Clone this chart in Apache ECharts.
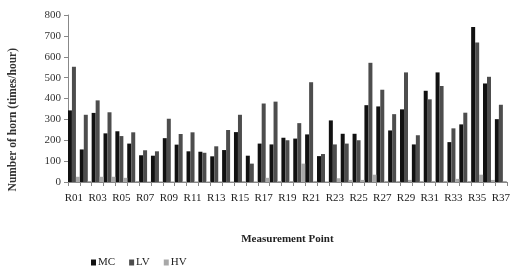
<!DOCTYPE html>
<html><head><meta charset="utf-8">
<script src="https://cdn.jsdelivr.net/npm/echarts@6/dist/echarts.min.js"></script>
<style>html,body{margin:0;padding:0;background:#fff;}#c{width:513px;height:272px;}</style>
</head><body><div id="c"></div>
<script>
const categories = ["R01","R02","R03","R04","R05","R06","R07","R08","R09","R10","R11","R12","R13","R14","R15","R16","R17","R18","R19","R20","R21","R22","R23","R24","R25","R26","R27","R28","R29","R30","R31","R32","R33","R34","R35","R36","R37"];
const mcValues = [343,156,331,233,243,184,128,126,210,179,147,145,123,153,239,126,184,180,212,208,228,124,295,231,231,368,362,247,348,180,437,525,191,276,742,472,301];
const lvValues = [552,322,391,334,220,238,152,147,303,230,238,140,171,249,322,88,376,385,200,282,478,134,180,184,200,571,442,325,525,224,396,460,257,332,668,504,370];
const hvValues = [25,5,25,25,20,5,3,3,3,3,3,3,3,3,5,3,20,5,5,88,5,3,18,10,10,35,5,5,10,5,5,5,15,5,35,10,5];
const yTicks = [0,100,200,300,400,500,600,700,800];

const font = "'Liberation Serif','DejaVu Serif',serif";
const chart = echarts.init(document.getElementById('c'));
chart.setOption({
  animation: false,
  textStyle: {fontFamily: font},
  grid: {left: 68, right: 3, top: 15, bottom: 90},
  legend: {
    left: 86, top: 252, itemWidth: 5, itemHeight: 6, itemGap: 14,
    icon: 'rect',
    textStyle: {fontFamily: font, fontSize: 11, color: '#222', padding: [0,0,0,-3]},
    data: ['MC','LV','HV']
  },
  xAxis: {
    type: 'category', data: categories,
    name: 'Measurement Point', nameLocation: 'middle', nameGap: 52,
    nameTextStyle: {fontFamily: font, fontWeight: 'bold', fontSize: 11, color: '#222'},
    axisLine: {lineStyle: {color: '#888'}},
    axisTick: {show: true, interval: 0, length: 4, lineStyle: {color: '#888'}},
    axisLabel: {interval: 1, fontFamily: font, fontSize: 11, color: '#222', margin: 11}
  },
  yAxis: {
    type: 'value', min: 0, max: 800, interval: 100,
    axisLine: {show: true, lineStyle: {color: '#888'}},
    axisTick: {show: true, length: 4, lineStyle: {color: '#888'}},
    splitLine: {show: false},
    axisLabel: {fontFamily: font, fontSize: 11, color: '#333', margin: 7,
      formatter: v => yTicks.includes(v) ? String(v) : ''}
  },
  graphic: [{
    type: 'text', left: 7, top: 48, rotation: Math.PI/2,
    style: {text: 'Number of horn (times/hour)', font: "bold 11.5px " + font, fill: '#333'}
  }],
  series: [
    {name: 'MC', type: 'bar', data: mcValues, barWidth: 4, barGap: '0%', itemStyle: {color: '#111'}},
    {name: 'LV', type: 'bar', data: lvValues, barWidth: 4, barGap: '0%', itemStyle: {color: '#4d4d4d'}},
    {name: 'HV', type: 'bar', data: hvValues, barWidth: 4, barGap: '0%', itemStyle: {color: '#a8a8a8'}}
  ]
});
</script></body></html>
